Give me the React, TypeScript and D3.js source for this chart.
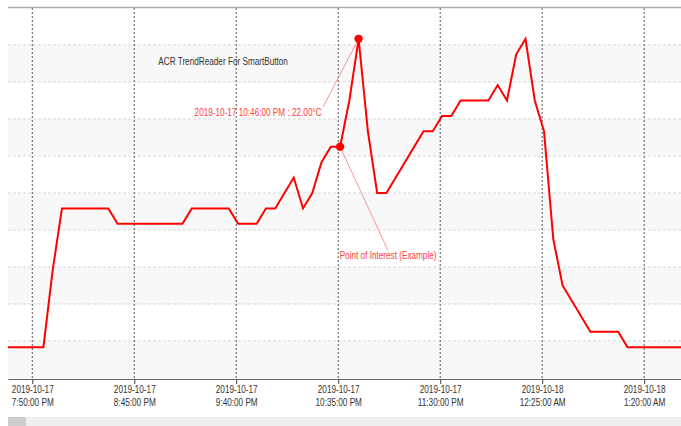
import React, { useRef, useEffect } from "react";
import * as d3 from "d3";

// Temperature readings (only the samples where the trend changes direction)
const sampleTimes = [
  "2019-10-17 19:36", "2019-10-17 19:56", "2019-10-17 20:01", "2019-10-17 20:06",
  "2019-10-17 20:31", "2019-10-17 20:36", "2019-10-17 21:11", "2019-10-17 21:16",
  "2019-10-17 21:36", "2019-10-17 21:41", "2019-10-17 21:51", "2019-10-17 21:56",
  "2019-10-17 22:01", "2019-10-17 22:11", "2019-10-17 22:16", "2019-10-17 22:21",
  "2019-10-17 22:26", "2019-10-17 22:31", "2019-10-17 22:36", "2019-10-17 22:41",
  "2019-10-17 22:46", "2019-10-17 22:51", "2019-10-17 22:56", "2019-10-17 23:01",
  "2019-10-17 23:21", "2019-10-17 23:26", "2019-10-17 23:31", "2019-10-17 23:36",
  "2019-10-17 23:41", "2019-10-17 23:56", "2019-10-18 00:01", "2019-10-18 00:06",
  "2019-10-18 00:11", "2019-10-18 00:16", "2019-10-18 00:21", "2019-10-18 00:26",
  "2019-10-18 00:31", "2019-10-18 00:36", "2019-10-18 00:51", "2019-10-18 01:06",
  "2019-10-18 01:11", "2019-10-18 01:41",
];
const temperatures = [
  20.0, 20.0, 20.5, 20.9,
  20.9, 20.8, 20.8, 20.9,
  20.9, 20.8, 20.8, 20.9,
  20.9, 21.1, 20.9, 21.0,
  21.2, 21.3, 21.3, 21.6,
  22.0, 21.4, 21.0, 21.0,
  21.4, 21.4, 21.5, 21.5,
  21.6, 21.6, 21.7, 21.6,
  21.9, 22.0, 21.6, 21.4,
  20.7, 20.4, 20.1, 20.1,
  20.0, 20.0,
];

// Visible window of the zoomed chart and its axis ticks
const viewRange = ["2019-10-17 19:36:54", "2019-10-18 01:39:52"];
const tickTimes = [
  "2019-10-17 19:50:00", "2019-10-17 20:45:00", "2019-10-17 21:40:00",
  "2019-10-17 22:35:00", "2019-10-17 23:30:00", "2019-10-18 00:25:00",
  "2019-10-18 01:20:00",
];
const yGridValues = [19.8, 20.04, 20.28, 20.52, 20.76, 21.0, 21.24, 21.48, 21.72, 21.96, 22.2];

const chartTitle = "ACR TrendReader For SmartButton";
const peakTime = "2019-10-17 22:46";
const poiTime = "2019-10-17 22:36";
const poiLabel = "Point of Interest (Example)";

const W = 681;
const H = 426;
const plot = { left: 8, top: 8, right: 681, bottom: 378 };
const FONT = "'Liberation Sans', Arial, sans-serif";
const SQUEEZE = "scale(0.82,1)";

const parseMin = d3.timeParse("%Y-%m-%d %H:%M");
const parseSec = d3.timeParse("%Y-%m-%d %H:%M:%S");

export default function App() {
  const svgRef = useRef<SVGSVGElement>(null);

  useEffect(() => {
    if (!svgRef.current) return;
    const svg = d3.select(svgRef.current);
    svg.selectAll("*").remove();

    const data = sampleTimes.map((t, i) => ({ date: parseMin(t) as Date, value: temperatures[i] }));

    const x = d3.scaleTime()
      .domain(viewRange.map(t => parseSec(t) as Date))
      .range([plot.left, plot.right]);
    const y = d3.scaleLinear()
      .domain([yGridValues[0], yGridValues[yGridValues.length - 1]])
      .range([plot.bottom, plot.top]);
    const ticks = tickTimes.map(t => parseSec(t) as Date);

    // alternating background bands
    for (let i = 0; i < yGridValues.length - 1; i++) {
      if (i % 2 !== 0) continue;
      svg.append("rect")
        .attr("x", plot.left)
        .attr("y", y(yGridValues[i + 1]))
        .attr("width", plot.right - plot.left)
        .attr("height", y(yGridValues[i]) - y(yGridValues[i + 1]))
        .attr("fill", "#f8f8f8");
    }

    // horizontal grid
    svg.append("g").selectAll("line")
      .data(yGridValues.slice(1, -1))
      .enter()
      .append("line")
      .attr("x1", plot.left).attr("x2", plot.right)
      .attr("y1", d => y(d)).attr("y2", d => y(d))
      .attr("stroke", "#d8d8d8")
      .attr("stroke-dasharray", "3,2");

    // vertical grid at ticks
    svg.append("g").selectAll("line")
      .data(ticks)
      .enter()
      .append("line")
      .attr("x1", d => x(d)).attr("x2", d => x(d))
      .attr("y1", plot.top).attr("y2", plot.bottom)
      .attr("stroke", "#555")
      .attr("stroke-dasharray", "2,2");

    // top border
    svg.append("line")
      .attr("x1", plot.left).attr("x2", plot.right)
      .attr("y1", plot.top - 0.5).attr("y2", plot.top - 0.5)
      .attr("stroke", "#aaa")
      .attr("stroke-width", 1.5);

    // x axis
    const axis = svg.append("g")
      .attr("transform", `translate(0,${plot.bottom + 1})`)
      .call(d3.axisBottom(x).tickValues(ticks).tickSize(5).tickSizeOuter(0).tickFormat(() => ""));
    axis.select(".domain").attr("stroke", "#666");
    axis.selectAll(".tick line").attr("stroke", "#444");
    const fmtDate = d3.timeFormat("%Y-%m-%d");
    const fmtTime = d3.timeFormat("%-I:%M:%S %p");
    axis.selectAll<SVGGElement, Date>(".tick").each(function (d) {
      const g = d3.select(this);
      g.select("text").remove();
      [fmtDate(d), fmtTime(d)].forEach((s, k) => {
        g.append("text")
          .attr("transform", `translate(0,${13.7 + k * 13.3}) ${SQUEEZE}`)
          .attr("text-anchor", "middle")
          .attr("font-family", FONT)
          .attr("font-size", 10)
          .attr("fill", "#333")
          .text(s);
      });
    });

    // scroll bar
    svg.append("rect").attr("x", plot.left).attr("y", 417).attr("width", plot.right - plot.left).attr("height", 9).attr("fill", "#efefef");
    svg.append("rect").attr("x", plot.left).attr("y", 417).attr("width", 18).attr("height", 9).attr("fill", "#cdcdcd");

    // series
    svg.append("clipPath").attr("id", "plot-clip")
      .append("rect")
      .attr("x", plot.left).attr("y", plot.top)
      .attr("width", plot.right - plot.left).attr("height", plot.bottom - plot.top);

    const line = d3.line<{ date: Date; value: number }>()
      .x(d => x(d.date))
      .y(d => y(d.value));

    svg.append("path")
      .datum(data)
      .attr("clip-path", "url(#plot-clip)")
      .attr("fill", "none")
      .attr("stroke", "#ff0000")
      .attr("stroke-width", 2)
      .attr("stroke-linejoin", "miter")
      .attr("d", line);

    // title
    svg.append("text")
      .attr("transform", `translate(158.3,65) ${SQUEEZE}`)
      .attr("font-family", FONT)
      .attr("font-size", 10)
      .attr("fill", "#333")
      .text(chartTitle);

    // annotations
    const peak = data.find(d => +d.date === +(parseMin(peakTime) as Date))!;
    const poi = data.find(d => +d.date === +(parseMin(poiTime) as Date))!;
    const px = x(peak.date), py = y(peak.value);
    const qx = x(poi.date), qy = y(poi.value);
    const fmtFull = d3.timeFormat("%Y-%m-%d %-I:%M:%S %p");

    svg.append("line")
      .attr("x1", px - 35.5).attr("y1", py + 68)
      .attr("x2", px).attr("y2", py)
      .attr("stroke", "#ff7a7a").attr("stroke-width", 0.8);
    svg.append("line")
      .attr("x1", qx).attr("y1", qy)
      .attr("x2", qx + 47.6).attr("y2", qy + 103)
      .attr("stroke", "#ff7a7a").attr("stroke-width", 0.8);

    svg.append("text")
      .attr("transform", `translate(${px - 37},${py + 77}) ${SQUEEZE}`)
      .attr("text-anchor", "end")
      .attr("font-family", FONT)
      .attr("font-size", 10)
      .attr("fill", "#ff3d3d")
      .text(`${fmtFull(peak.date)} : ${peak.value.toFixed(2)}°C`);
    svg.append("text")
      .attr("transform", `translate(${qx + 48},${qy + 112}) ${SQUEEZE}`)
      .attr("text-anchor", "middle")
      .attr("font-family", FONT)
      .attr("font-size", 10)
      .attr("fill", "#ff3d3d")
      .text(poiLabel);

    [[px, py], [qx, qy]].forEach(([cx, cy]) => {
      svg.append("circle")
        .attr("cx", cx).attr("cy", cy).attr("r", 4.2)
        .attr("fill", "#ff0000");
    });
  }, []);

  return (
    <div style={{ position: "fixed", left: 0, top: 0, width: W, height: H, background: "#fff" }}>
      <svg ref={svgRef} width={W} height={H} style={{ display: "block" }} />
    </div>
  );
}
